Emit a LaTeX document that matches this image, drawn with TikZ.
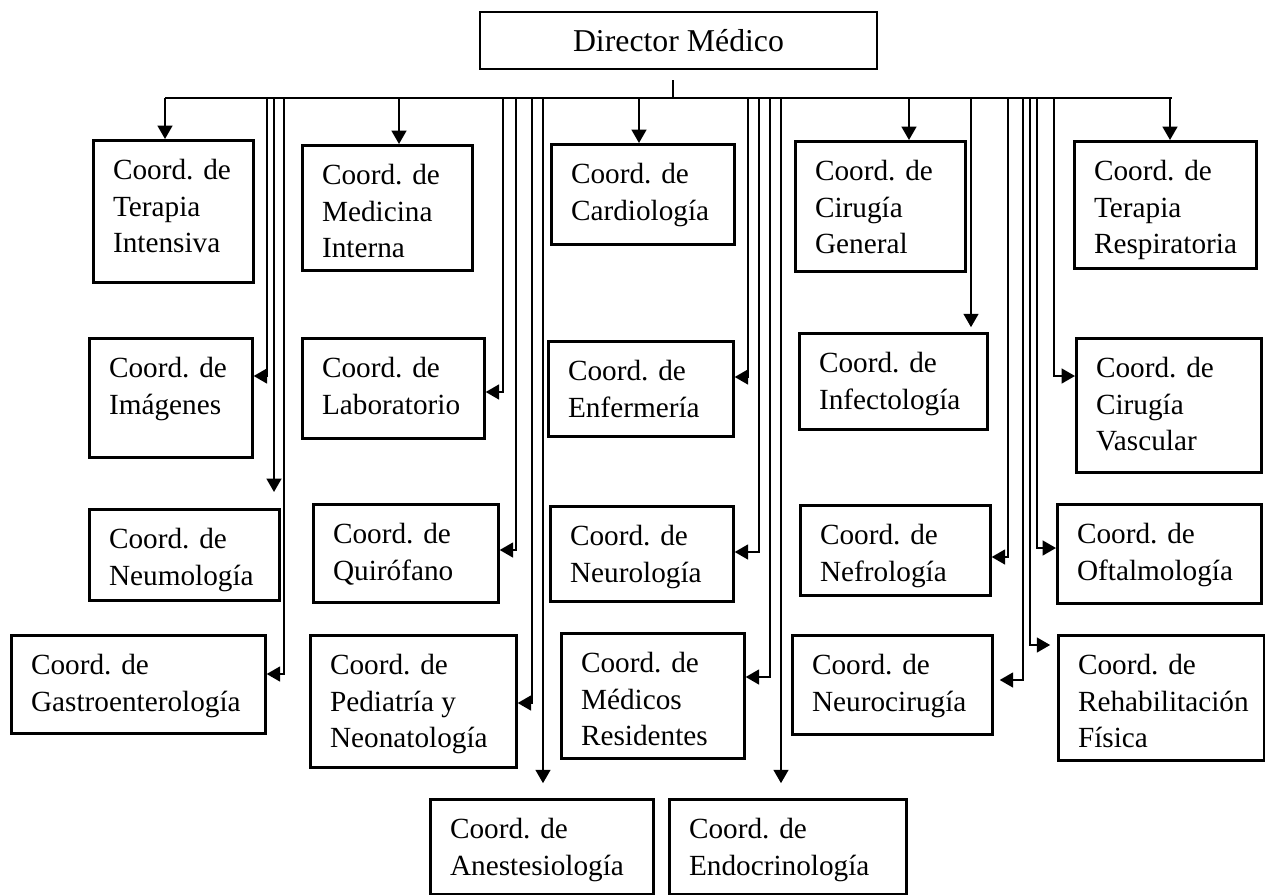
\documentclass[tikz,border=0pt]{standalone}
\usepackage{fontspec}
\setmainfont{Liberation Serif}
\usetikzlibrary{arrows.meta}

% one coordination box: name, x1, y1, x2, y2, text (pixel units)
\newcommand{\coordbox}[6]{%
  \node[cbox, minimum width={(#4-#2)*0.025cm}, minimum height={(#5-#3)*0.025cm},
        label={[lbl]north west:{#6}}] (#1) at (#2,#3) {};}

\begin{document}
\begin{tikzpicture}[x=0.025cm,y=-0.025cm,
  cbox/.style={draw, line width=1.9pt, anchor=north west, inner sep=0pt},
  lbl/.style={anchor=north west, align=left, inner sep=0pt, xshift=0.52cm, yshift=-0.5cm,
    font=\fontsize{20.8}{26}\selectfont},
  arr/.style={line width=1.5pt, -{Triangle[length=9.5pt,width=10.5pt]}},
  bus/.style={line width=1.1pt}]
  \useasboundingbox (0,0) rectangle (1265,895);

  \node[draw, line width=1.9pt, minimum width={397*0.025cm}, minimum height={57*0.025cm},
    font=\fontsize{22.6}{27}\selectfont] (dm) at (678.5,40.5) {Director Médico};

  % first row
  \coordbox{ti}{92}{139}{252}{281}{Coord. de\\Terapia\\Intensiva}
  \coordbox{mi}{301}{144}{471}{269}{Coord. de\\Medicina\\Interna}
  \coordbox{ca}{550}{143}{733}{243}{Coord. de\\Cardiología}
  \coordbox{cg}{794}{140}{964}{270}{Coord. de\\Cirugía\\General}
  \coordbox{tr}{1073}{140}{1255}{267}{Coord. de\\Terapia\\Respiratoria}
  % second row
  \coordbox{im}{88}{337}{251}{456}{Coord. de\\Imágenes}
  \coordbox{lab}{301}{337}{483}{437}{Coord. de\\Laboratorio}
  \coordbox{en}{547}{340}{732}{435}{Coord. de\\Enfermería}
  \coordbox{inf}{798}{332}{986}{428}{Coord. de\\Infectología}
  \coordbox{cv}{1075}{337}{1260}{471}{Coord. de\\Cirugía\\Vascular}
  % third row
  \coordbox{nm}{88}{508}{278}{599}{Coord. de\\Neumología}
  \coordbox{qu}{312}{503}{497}{601}{Coord. de\\Quirófano}
  \coordbox{neu}{549}{505}{732}{600}{Coord. de\\Neurología}
  \coordbox{nf}{799}{504}{989}{594}{Coord. de\\Nefrología}
  \coordbox{of}{1056}{503}{1260}{602}{Coord. de\\Oftalmología}
  % fourth row
  \coordbox{ga}{10}{634}{264}{732}{Coord. de\\Gastroenterología}
  \coordbox{pe}{309}{634}{515}{766}{Coord. de\\Pediatría y\\Neonatología}
  \coordbox{mr}{560}{632}{743}{757}{Coord. de\\Médicos\\Residentes}
  \coordbox{nc}{791}{634}{991}{733}{Coord. de\\Neurocirugía}
  \coordbox{rf}{1057}{634}{1263}{759}{Coord. de\\Rehabilitación\\Física}
  % bottom
  \coordbox{an}{429}{798}{652}{893}{Coord. de\\Anestesiología}
  \coordbox{ed}{668}{798}{905}{893}{Coord. de\\Endocrinología}

  % bus
  \draw[bus] (673,80) -- (673,98);
  \draw[bus] (165,98) -- (1172,98);

  % down to the first row
  \draw[arr] (165,98) -- (ti.north -| 165,0);
  \draw[arr] (399,98) -- (mi.north -| 399,0);
  \draw[arr] (639,98) -- (ca.north -| 639,0);
  \draw[arr] (909,98) -- (cg.north -| 909,0);
  \draw[arr] (1170,98) -- (tr.north -| 1170,0);

  % left group
  \draw[arr] (267,98) |- (im.east |- 0,376);
  \draw[arr, shorten >=0.4cm] (274,98) -- (nm.north -| 274,0);
  \draw[arr] (284,98) |- (ga.east |- 0,674);

  % middle left group
  \draw[arr] (503,98) |- (lab.east |- 0,392);
  \draw[arr] (516,98) |- (qu.east |- 0,550);
  \draw[arr] (532,98) |- (pe.east |- 0,703);
  \draw[arr, shorten >=0.37cm] (543,98) -- (an.north -| 543,0);

  % middle right group
  \draw[arr] (748,98) |- (en.east |- 0,377);
  \draw[arr] (759,98) |- (neu.east |- 0,552);
  \draw[arr] (770,98) |- (mr.east |- 0,677);
  \draw[arr, shorten >=0.37cm] (781,98) -- (ed.north -| 781,0);

  % right group
  \draw[arr, shorten >=0.12cm] (971,98) -- (inf.north -| 971,0);
  \draw[arr] (1008,98) |- (nf.east |- 0,557);
  \draw[arr, shorten >=0.15cm] (1023,98) |- (nc.east |- 0,680);
  \draw[arr, shorten >=0.17cm] (1030,98) |- (rf.west |- 0,645);
  \draw[arr] (1037,98) |- (of.west |- 0,548);
  \draw[arr] (1054,98) |- (cv.west |- 0,376);
\end{tikzpicture}
\end{document}
